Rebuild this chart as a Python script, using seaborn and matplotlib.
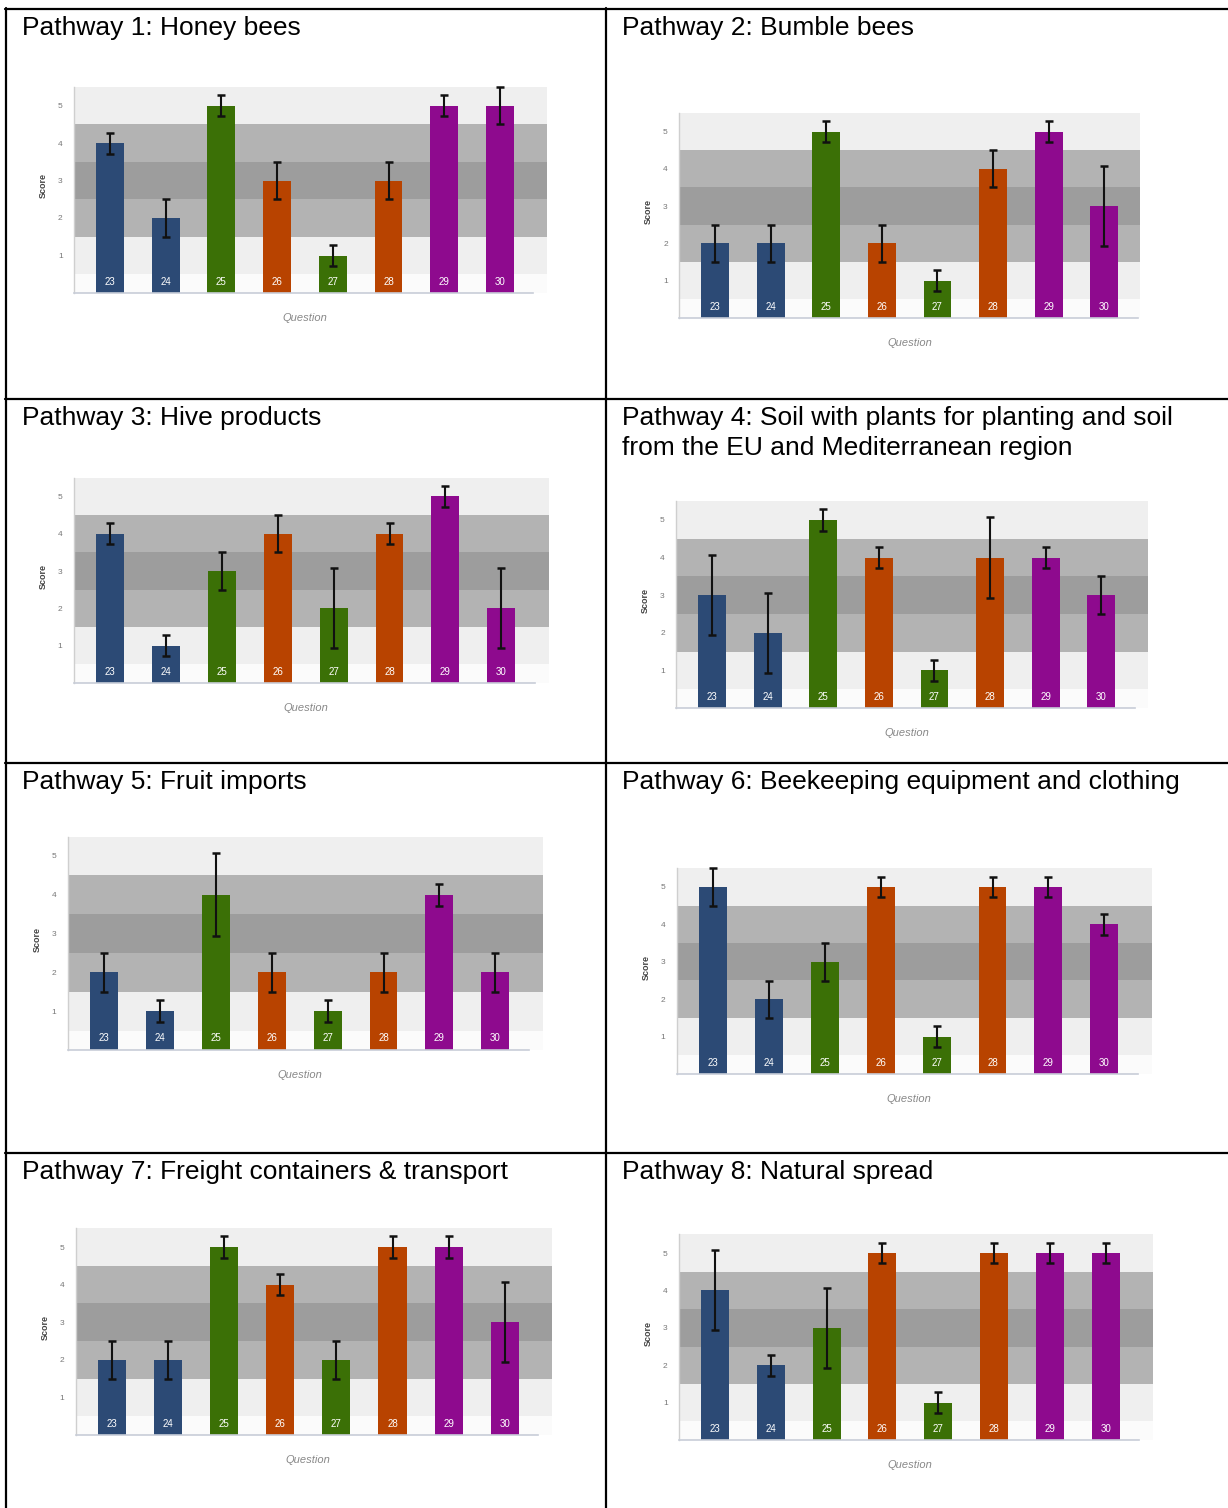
import matplotlib
matplotlib.use("Agg")
import matplotlib.pyplot as plt
from matplotlib.lines import Line2D
import seaborn as sns
import pandas as pd

# ---- data -------------------------------------------------------------
questions = ["23", "24", "25", "26", "27", "28", "29", "30"]

titles = [
    "Pathway 1: Honey bees",
    "Pathway 2: Bumble bees",
    "Pathway 3: Hive products",
    "Pathway 4: Soil with plants for planting and soil\nfrom the EU and Mediterranean region",
    "Pathway 5: Fruit imports",
    "Pathway 6: Beekeeping equipment and clothing",
    "Pathway 7: Freight containers & transport",
    "Pathway 8: Natural spread",
]

scores_p1 = [4, 2, 5, 3, 1, 3, 5, 5]
scores_p2 = [2, 2, 5, 2, 1, 4, 5, 3]
scores_p3 = [4, 1, 3, 4, 2, 4, 5, 2]
scores_p4 = [3, 2, 5, 4, 1, 4, 4, 3]
scores_p5 = [2, 1, 4, 2, 1, 2, 4, 2]
scores_p6 = [5, 2, 3, 5, 1, 5, 5, 4]
scores_p7 = [2, 2, 5, 4, 2, 5, 5, 3]
scores_p8 = [4, 2, 3, 5, 1, 5, 5, 5]

err_p1 = [0.28, 0.5, 0.28, 0.5, 0.28, 0.5, 0.28, 0.5]
err_p2 = [0.5, 0.5, 0.28, 0.5, 0.28, 0.5, 0.28, 1.07]
err_p3 = [0.28, 0.28, 0.5, 0.5, 1.07, 0.28, 0.28, 1.07]
err_p4 = [1.07, 1.07, 0.28, 0.28, 0.28, 1.07, 0.28, 0.5]
err_p5 = [0.5, 0.28, 1.07, 0.5, 0.28, 0.5, 0.28, 0.5]
err_p6 = [0.5, 0.5, 0.5, 0.28, 0.28, 0.28, 0.28, 0.28]
err_p7 = [0.5, 0.5, 0.28, 0.28, 0.5, 0.28, 0.28, 1.07]
err_p8 = [1.07, 0.28, 1.07, 0.28, 0.28, 0.28, 0.28, 0.28]

all_scores = [scores_p1, scores_p2, scores_p3, scores_p4,
              scores_p5, scores_p6, scores_p7, scores_p8]
all_errs = [err_p1, err_p2, err_p3, err_p4, err_p5, err_p6, err_p7, err_p8]

# ---- styling ----------------------------------------------------------
NAVY, GREEN, ORANGE, PURPLE = "#2c4a75", "#3b7006", "#b84300", "#8e0a8e"
bar_colors = {"23": NAVY, "24": NAVY, "25": GREEN, "26": ORANGE,
              "27": GREEN, "28": ORANGE, "29": PURPLE, "30": PURPLE}

# score bands shaded behind the bars
bands = [(0.0, 0.5, "#fbfbfb"), (0.5, 1.5, "#efefef"), (1.5, 2.5, "#b3b3b3"),
         (2.5, 3.5, "#9d9d9d"), (3.5, 4.5, "#b3b3b3"), (4.5, 5.5, "#efefef")]

sns.set_style("white")
plt.rcParams["font.family"] = ["Liberation Sans", "DejaVu Sans"]

W, H = 1228, 1508
fig = plt.figure(figsize=(W / 100, H / 100), dpi=100)


def fx(x):
    return x / W


def fy(y):
    return 1 - y / H


# table grid
row_tops = [9, 399, 763, 1153]
col_lefts = [6, 606]
line_kw = dict(color="black", lw=1.6, transform=fig.transFigure)
for y in row_tops:
    fig.add_artist(Line2D([fx(5), fx(W)], [fy(y), fy(y)], **line_kw))
for x in col_lefts:
    fig.add_artist(Line2D([fx(x), fx(x)], [fy(8), fy(H)], **line_kw))

# per-panel placement: first bar centre (px), bar spacing (px),
# pixel row of score 0, pixels per score unit, right edge in bar units
placement = [
    (110, 55.7, 293, 37.5, 7.85),
    (715, 55.6, 318, 37.3, 7.65),
    (110, 55.9, 683, 37.3, 7.85),
    (712, 55.6, 708, 37.6, 7.85),
    (104, 55.9, 1050, 38.8, 7.85),
    (713, 55.9, 1074, 37.4, 7.85),
    (112, 56.1, 1435, 37.6, 7.85),
    (715, 55.8, 1440, 37.4, 7.85),
]

YTOP = 5.5
XLEFT = -0.65

for i in range(8):
    r, c = divmod(i, 2)
    row_top = row_tops[r]
    col_left = col_lefts[c]

    # title
    for k, line in enumerate(titles[i].split("\n")):
        fig.text(fx(col_left + 16), fy(row_top + 26 + 30 * k), line,
                 fontsize=19, va="baseline", ha="left", color="black")

    x0, sp, y0, unit, xr = placement[i]
    left = x0 + XLEFT * sp
    right = x0 + xr * sp
    top = y0 - YTOP * unit
    ax = fig.add_axes([fx(left), fy(y0), (right - left) / W, (y0 - top) / H])

    df = pd.DataFrame({"Question": questions, "Score": all_scores[i]})
    for lo, hi, col in bands:
        ax.axhspan(lo, hi, color=col, lw=0, zorder=0)
    sns.barplot(data=df, x="Question", y="Score", hue="Question",
                palette=bar_colors, order=questions, hue_order=questions,
                width=0.5, errorbar=None, legend=False, ax=ax,
                saturation=1, zorder=2, linewidth=0)
    ax.errorbar(range(len(questions)), all_scores[i], yerr=all_errs[i],
                fmt="none", ecolor="#111111", elinewidth=1.5, capsize=2.8,
                capthick=1.8, zorder=3, clip_on=False)
    for j, q in enumerate(questions):
        ax.text(j, 0.3, q, ha="center", va="center", color="white",
                fontsize=7, zorder=4)

    ax.set_xlim(XLEFT, xr)
    ax.set_ylim(0, YTOP)
    ax.set_xticks([])
    ax.set_yticks([1, 2, 3, 4, 5])
    ax.tick_params(axis="y", labelsize=6, labelcolor="#777777", length=0, pad=8)
    ax.set_xlabel("Question", fontsize=8, color="#888888", style="italic")
    ax.xaxis.set_label_coords((3.5 - XLEFT) / (xr - XLEFT), -20 / (YTOP * unit))
    ax.set_ylabel("Score", fontsize=6.5, color="#444444", fontweight="bold")
    ax.yaxis.set_label_coords(-26 / (right - left), 0.52)
    for s in ("top", "right"):
        ax.spines[s].set_visible(False)
    ax.spines["left"].set_color("#cfcfcf")
    ax.spines["left"].set_linewidth(1.0)
    ax.spines["bottom"].set_color("#c8cdd8")
    ax.spines["bottom"].set_linewidth(1.2)
    ax.spines["bottom"].set_bounds(XLEFT, 7.6)
    ax.set_facecolor("white")

fig.savefig("out.png", dpi=100)
